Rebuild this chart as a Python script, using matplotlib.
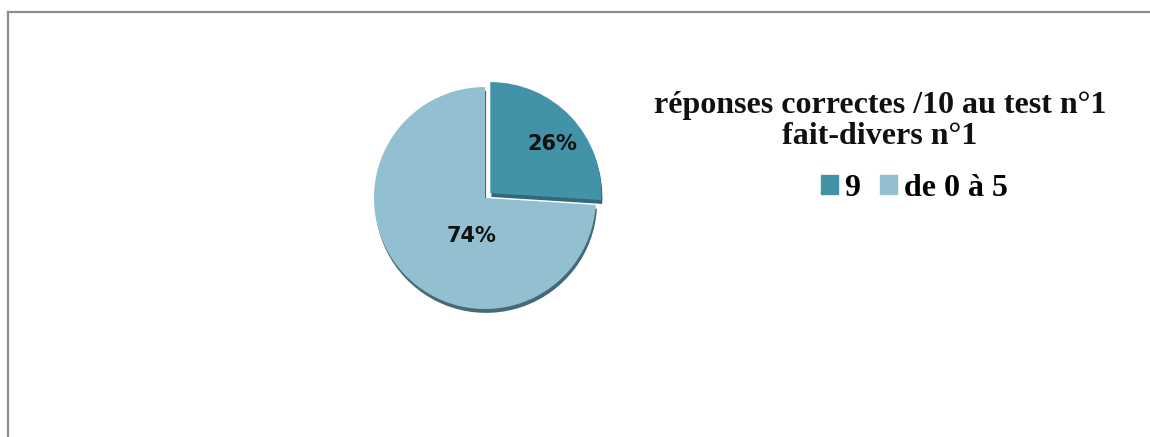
import matplotlib.pyplot as plt
from matplotlib.lines import Line2D

labels = ["9", "de 0 à 5"]
shares = [26, 74]
colors = ["#4393a8", "#93c0d0"]
shadow_colors = ["#2e6a7a", "#456a76"]
title = "réponses correctes /10 au test n°1\nfait-divers n°1"

W, H = 1150, 437
fig = plt.figure(figsize=(W / 100, H / 100), dpi=100)

# outer frame (top + left edges visible)
fig.add_artist(Line2D([8 / W, 1], [1 - 12 / H, 1 - 12 / H], color="#8c8c8c", lw=1.6))
fig.add_artist(Line2D([8 / W, 8 / W], [0, 1 - 12 / H], color="#8c8c8c", lw=1.6))

cx, cy, r = 485, 198, 111
half = 130
ax = fig.add_axes([(cx - half) / W, (H - cy - half) / H, 2 * half / W, 2 * half / H])
ax.set_aspect("equal")
ax.axis("off")

explode = [0.065, 0]

# shadow layer
ax.pie(shares, colors=shadow_colors, startangle=90, counterclock=False,
       explode=explode, radius=1.0, center=(0.01, -0.035),
       wedgeprops=dict(linewidth=0))

wedges, _ = ax.pie(shares, colors=colors, startangle=90, counterclock=False,
                   explode=explode, radius=1.0,
                   wedgeprops=dict(linewidth=0))
ax.set_xlim(-half / r, half / r)
ax.set_ylim(-half / r, half / r)

label_pos = [(0.61, 0.485), (-0.12, -0.345)]
for s, (x, y) in zip(shares, label_pos):
    ax.text(x, y, f"{s}%", ha="center", va="center", fontsize=15,
            fontweight="bold", family="DejaVu Sans", color="#111111")

fig.text(880 / W, 1 - 121 / H, title, ha="center", va="center",
         family="Liberation Serif", fontweight="bold", fontsize=23,
         linespacing=1.12, color="#111111")

handles = [plt.Rectangle((0, 0), 1, 1, color=c) for c in colors]
fig.legend(handles, labels, loc="center", bbox_to_anchor=(914 / W, 1 - 188 / H),
           ncol=2, frameon=False, handlelength=0.55, handleheight=0.55,
           handletextpad=0.2, columnspacing=0.6,
           prop=dict(family="Liberation Serif", weight="bold", size=23))

fig.savefig("out.png", dpi=100, facecolor="white")
